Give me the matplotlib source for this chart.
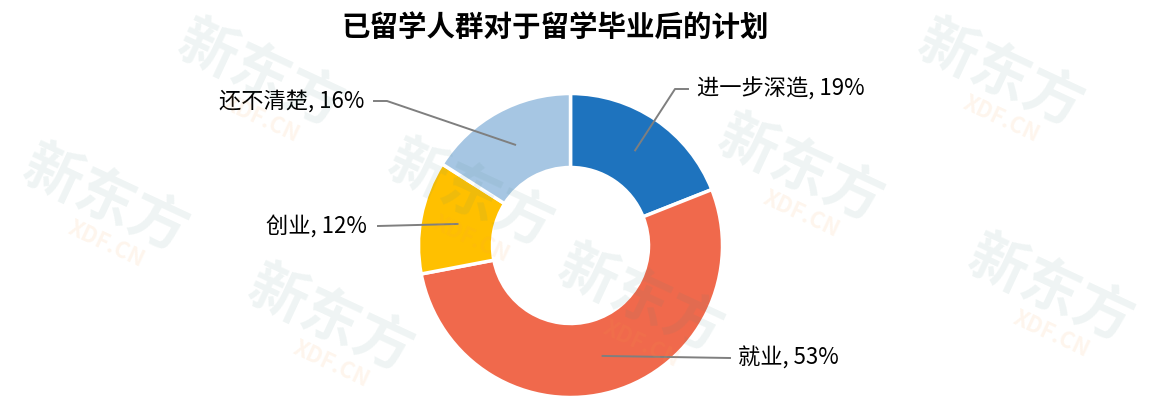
import numpy as np
import matplotlib.pyplot as plt

plt.rcParams["font.family"] = ["Noto Sans CJK SC", "DejaVu Sans"]

TITLE = "已留学人群对于留学毕业后的计划"
categories = ["进一步深造", "就业", "创业", "还不清楚"]
shares = [19, 53, 12, 16]
colors = ["#1E73BE", "#F0694C", "#FFC000", "#A6C6E3"]

W, H = 1156, 412
CENTER = (570.5, H - 245.5)
R_OUT, R_IN = 152, 78

# label layout in image pixels: (elbow or None, line end, text x, ha)
label_layout = [
    ((675, 89), (688, 89), 697, "left"),
    (None, (730, 358), 738, "left"),
    (None, (378, 226), 367, "right"),
    ((387, 101), (374, 101), 364, "right"),
]

watermarks = [(260, 75), (1000, 75), (105, 200), (470, 195), (800, 170),
              (330, 320), (640, 300), (1050, 290)]


def img(p):
    return p[0], H - p[1]


fig = plt.figure(figsize=(W / 100, H / 100), dpi=100)
ax = fig.add_axes([0, 0, 1, 1])

wedges, _ = ax.pie(
    shares, colors=colors, startangle=90, counterclock=False,
    radius=R_OUT, center=CENTER,
    wedgeprops=dict(width=R_OUT - R_IN, edgecolor="white", linewidth=2.5),
)
ax.set_xlim(0, W)
ax.set_ylim(0, H)
ax.set_aspect("equal")
ax.axis("off")

for w, name, share, (elbow, end, tx, ha) in zip(wedges, categories, shares, label_layout):
    mid = np.deg2rad((w.theta1 + w.theta2) / 2)
    rm = w.r - w.width / 2
    start = (CENTER[0] + rm * np.cos(mid), CENTER[1] + rm * np.sin(mid))
    pts = [start] + ([img(elbow)] if elbow else []) + [img(end)]
    xs, ys = zip(*pts)
    ax.plot(xs, ys, color="#7f7f7f", lw=1.4, zorder=3)
    ax.text(tx, H - end[1], f"{name}, {share}%", ha=ha, va="center",
            fontsize=16, color="black", zorder=4)

ax.text(555, H - 28, TITLE, ha="center", va="center", fontsize=20.5,
        fontweight="bold", color="black")

# faint watermark
ang = -25
c, s = np.cos(np.deg2rad(ang)), np.sin(np.deg2rad(ang))
for x, y in watermarks:
    cx, cy = img((x, y))
    ax.text(cx, cy, "新东方", rotation=ang, rotation_mode="anchor",
            ha="center", va="center", fontsize=42, fontweight="heavy",
            color="#4f8a80", alpha=0.09, zorder=6)
    ox, oy = 20, -40
    ax.text(cx + ox * c - oy * s, cy + ox * s + oy * c, "XDF.CN",
            rotation=ang, rotation_mode="anchor", ha="center", va="center",
            fontsize=16, fontweight="heavy", color="#f5a04a", alpha=0.1, zorder=6)

fig.savefig("out.png", dpi=100)
